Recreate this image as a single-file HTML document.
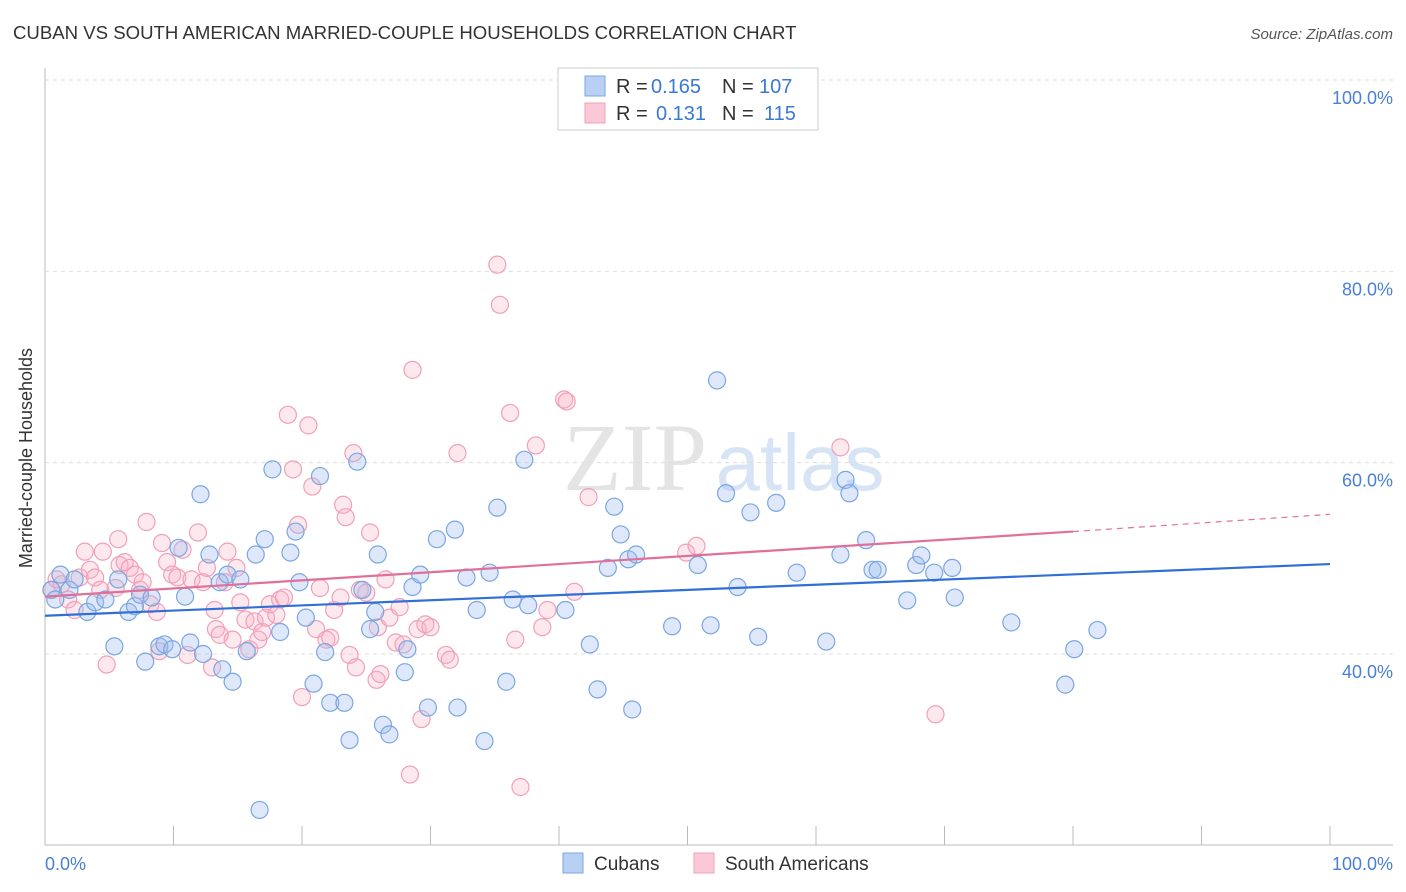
<!DOCTYPE html>
<html><head><meta charset="utf-8"><style>
body{margin:0;background:#fff;font-family:"Liberation Sans",sans-serif;}
svg{display:block}
</style></head><body>
<svg id="chart" width="1406" height="892">
<text x="13" y="39" font-size="18.6" fill="#333">CUBAN VS SOUTH AMERICAN MARRIED-COUPLE HOUSEHOLDS CORRELATION CHART</text>
<text x="1393" y="39" font-size="15" fill="#555" font-style="italic" text-anchor="end">Source: ZipAtlas.com</text>
<text x="32" y="458" font-size="18" fill="#333" text-anchor="middle" transform="rotate(-90 32 458)">Married-couple Households</text>
<g><text x="635" y="490" font-size="96" fill="#e4e4e4" font-family="Liberation Serif" text-anchor="middle">ZIP</text><text x="800" y="490" font-size="80" fill="#d6e4f5" text-anchor="middle">atlas</text></g>
<g id="grid"></g><g id="pts"></g><g id="lines"></g>
<g>
<rect x="558" y="68" width="260" height="62" fill="#fff" stroke="#ccc"/>
<rect x="585" y="76" width="20" height="20" fill="#b8d0f4" stroke="#7aa7e0"/>
<text x="616" y="93" font-size="20" fill="#333">R =</text>
<text x="651" y="93" font-size="20" fill="#3a78d6">0.165</text>
<text x="722" y="93" font-size="20" fill="#333">N =</text>
<text x="759" y="93" font-size="20" fill="#3a78d6">107</text>
<rect x="585" y="103" width="20" height="20" fill="#fbc8d8" stroke="#f0a0b8"/>
<text x="616" y="120" font-size="20" fill="#333">R =</text>
<text x="656" y="120" font-size="20" fill="#3a78d6">0.131</text>
<text x="722" y="120" font-size="20" fill="#333">N =</text>
<text x="764" y="120" font-size="20" fill="#3a78d6">115</text>
</g>
<g>
<rect x="563" y="853" width="20" height="20" fill="#b8d0f4" stroke="#7aa7e0"/>
<text x="594" y="870" font-size="19" fill="#333">Cubans</text>
<rect x="694" y="853" width="20" height="20" fill="#fbc8d8" stroke="#f0a0b8"/>
<text x="725" y="870" font-size="19" fill="#333">South Americans</text>
</g>
<text x="45" y="870" font-size="18" fill="#4a7fd6">0.0%</text>
<text x="1393" y="870" font-size="18" fill="#4a7fd6" text-anchor="end">100.0%</text>
</svg>
<script>
const yTicks=[100,80,60,40];
const yTickLabels=["100.0%","80.0%","60.0%","40.0%"];
const xTicks=[0,10,20,30,40,50,60,70,80,90,100];
const cubanX=[1.2,0.5,0.8,1.9,2.3,3.3,3.9,4.7,5.7,5.4,6.5,7.0,7.4,7.8,8.3,8.9,9.3,9.9,10.4,10.9,11.3,12.1,12.3,12.8,13.6,13.8,14.2,14.6,15.2,15.7,16.4,17.1,17.7,18.3,19.1,19.5,19.8,20.3,20.9,21.4,21.8,22.2,23.3,23.7,24.3,24.7,25.3,25.7,25.9,26.3,26.8,28.0,28.2,28.6,29.2,29.8,30.5,31.9,32.1,32.8,33.6,34.2,34.6,35.2,35.9,36.4,37.3,37.6,40.5,42.4,43.0,43.8,44.3,44.8,45.4,45.7,46.0,48.8,50.8,51.8,52.3,53.0,53.9,54.9,55.5,56.9,58.5,60.8,61.9,62.3,62.6,63.9,64.4,64.8,67.1,67.8,68.2,69.2,70.6,70.8,75.2,79.4,80.1,81.9,16.7];
const cubanY=[48.3,46.7,45.7,46.7,47.8,44.4,45.4,45.7,47.8,40.8,44.4,45.0,46.2,39.2,45.9,40.8,41.0,40.5,51.1,46.0,41.2,56.7,40.0,50.4,47.5,38.4,48.3,37.1,47.8,40.3,50.4,52.0,59.3,42.3,50.6,52.8,47.5,43.8,36.9,58.6,40.2,34.9,34.9,31.0,60.1,46.7,42.6,44.4,50.4,32.6,31.6,38.1,40.5,47.0,48.3,34.4,52.0,53.0,34.4,48.0,44.6,30.9,48.5,55.3,37.1,45.7,60.3,45.1,44.6,41.0,36.3,49.0,55.4,52.5,49.9,34.2,50.4,42.9,49.3,43.0,68.6,56.8,47.0,54.8,41.8,55.8,48.5,41.3,50.4,58.2,56.8,51.9,48.8,48.8,45.6,49.3,50.3,48.5,49.0,45.9,43.3,36.8,40.5,42.5,23.7];
const southX=[0.5,0.9,1.3,1.8,2.3,2.7,3.1,3.5,3.9,4.3,4.5,4.8,5.7,5.8,6.2,6.6,7.0,7.4,7.6,7.9,8.2,8.7,8.9,9.1,9.5,9.9,10.3,10.7,11.1,11.4,11.9,12.3,12.6,13.0,13.3,13.6,14.0,14.2,14.6,14.9,15.2,15.6,15.9,16.3,16.6,16.9,17.2,17.5,18.0,18.3,18.6,18.9,19.3,19.7,20.0,20.5,20.8,21.1,21.4,21.9,22.2,22.5,23.0,23.2,23.4,23.7,24.0,24.2,24.5,25.0,25.3,25.8,25.9,26.1,26.5,26.8,27.3,27.6,27.9,28.4,28.6,29.0,29.3,29.6,30.0,31.2,31.5,32.1,35.2,35.4,36.2,36.6,38.2,38.7,39.1,40.4,40.6,41.2,42.3,37.0,49.9,50.7,61.9,69.3,13.2,5.5];
const southY=[46.7,47.8,47.3,45.7,44.6,48.0,50.7,48.8,48.0,46.7,50.7,38.9,52.0,49.3,49.6,49.0,48.3,46.7,47.5,53.8,45.2,44.4,40.3,51.6,49.6,48.3,48.0,50.9,39.9,47.8,52.7,47.5,49.0,38.6,42.6,42.0,47.5,50.7,41.5,49.0,45.4,43.6,40.5,43.4,41.5,42.3,43.8,45.2,44.1,45.7,45.9,65.0,59.3,53.5,35.5,63.9,57.5,42.6,46.9,41.5,41.7,44.6,45.9,55.6,54.3,39.9,61.0,38.6,46.7,46.4,52.7,37.3,42.8,37.9,47.8,43.8,41.2,44.9,41.0,27.4,69.7,42.6,33.2,43.1,42.8,39.9,39.4,61.0,80.7,76.5,65.2,41.5,61.8,42.8,44.6,66.6,66.4,46.5,56.4,26.1,50.6,51.3,61.6,33.7,44.6,46.9];
const cubanTrend=[44.0,49.4];
const southTrend=[46.0,52.8,54.6];
const NS="http://www.w3.org/2000/svg";
const X0=45,X1=1330,YTOP=80,YB=654;
function sx(v){return X0+(X1-X0)*v/100;}
function sy(v){return YB-(YB-YTOP)*(v-40)/60;}
function mk(t,a,p){const e=document.createElementNS(NS,t);for(const k in a)e.setAttribute(k,a[k]);p.appendChild(e);return e;}
const grid=document.getElementById('grid');
const ax=mk('line',{x1:45,y1:68,x2:45,y2:845,stroke:'#bbb'},grid);


const bx=mk('line',{x1:45,y1:845,x2:1393,y2:845,stroke:'#bbb'},grid);


yTicks.forEach((t,i)=>{
 const g=mk('line',{x1:45,y1:sy(t),x2:1393,y2:sy(t),stroke:'#ddd','stroke-dasharray':'4,4'},grid);
 
 
 const l=mk('text',{x:1393,y:sy(t)+24,'font-size':18,fill:'#4a7fd6','text-anchor':'end'},grid);
 l.textContent=yTickLabels[i];
 
 
});
xTicks.forEach(t=>{
 const k=mk('line',{x1:sx(t),y1:826,x2:sx(t),y2:845,stroke:'#bbb'},grid);
 
 
});
const pts=document.getElementById('pts');
function draw(xs,ys,fill,stroke,name){
 xs.forEach((x,i)=>{
  const c=mk('circle',{cx:sx(x),cy:sy(ys[i]),r:8.5,fill:fill,stroke:stroke,'stroke-width':1.2},pts);
  
  
 });
}
draw(southX,southY,'rgba(248,180,200,0.3)','#f0a0b8','south-american-point');
draw(cubanX,cubanY,'rgba(160,190,240,0.35)','#7aa7e0','cuban-point');
const lines=document.getElementById('lines');
const bl=mk('line',{x1:sx(0),y1:sy(cubanTrend[0]),x2:sx(100),y2:sy(cubanTrend[1]),stroke:'#2f6fd6','stroke-width':2.2},lines);


const pl=mk('line',{x1:sx(0),y1:sy(southTrend[0]),x2:sx(80),y2:sy(southTrend[1]),stroke:'#e0709a','stroke-width':2.2},lines);


const pd=mk('line',{x1:sx(80),y1:sy(southTrend[1]),x2:sx(100),y2:sy(southTrend[2]),stroke:'#e0709a','stroke-width':1.2,'stroke-dasharray':'6,5'},lines);


</script>
</body></html>
